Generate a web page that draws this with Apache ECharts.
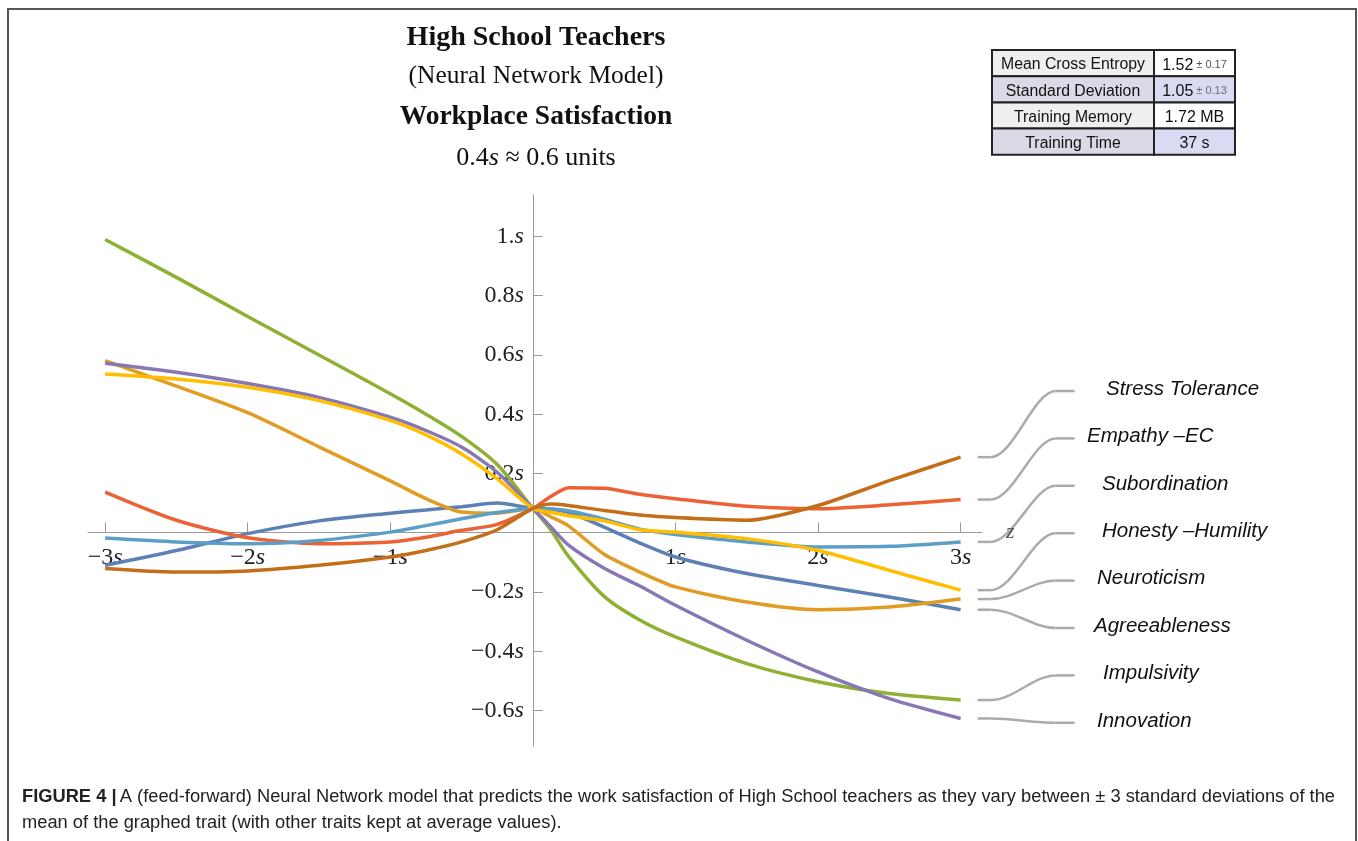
<!DOCTYPE html>
<html><head><meta charset="utf-8">
<script src="https://cdn.jsdelivr.net/npm/echarts@6/dist/echarts.min.js"></script>
<style>html,body{margin:0;padding:0;background:#fff}#c{width:1358px;height:841px}</style>
</head><body><div id="c"></div>
<script>
// ---- data ----
const xValues = [-3,-2.5,-2,-1.5,-1,-0.75,-0.5,-0.25,0,0.125,0.25,0.5,0.75,1,1.5,2,2.5,3];
const stressTolerance = [-0.121,-0.133,-0.129,-0.11,-0.082,-0.06,-0.031,0.01,0.082,0.097,0.092,0.075,0.06,0.051,0.042,0.092,0.176,0.255];
const empathyEC = [0.137,0.042,-0.017,-0.037,-0.031,-0.015,0.008,0.028,0.082,0.122,0.152,0.15,0.13,0.115,0.089,0.081,0.094,0.112];
const subordination = [-0.018,-0.031,-0.037,-0.026,0.002,0.024,0.047,0.068,0.082,0.081,0.074,0.046,0.012,-0.006,-0.031,-0.048,-0.046,-0.031];
const honestyHumility = [0.536,0.519,0.491,0.446,0.379,0.33,0.266,0.182,0.082,0.069,0.057,0.04,0.01,0.002,-0.02,-0.06,-0.127,-0.194];
const neuroticism = [0.581,0.495,0.405,0.29,0.175,0.115,0.07,0.066,0.082,0.054,0.023,-0.073,-0.133,-0.183,-0.234,-0.26,-0.251,-0.224];
const agreeableness = [-0.11,-0.06,-0.003,0.04,0.066,0.077,0.088,0.1,0.082,0.079,0.069,0.019,-0.035,-0.082,-0.138,-0.178,-0.217,-0.26];
const impulsivity = [0.99,0.862,0.73,0.6,0.469,0.4,0.325,0.23,0.082,0.01,-0.08,-0.215,-0.295,-0.352,-0.442,-0.503,-0.543,-0.565];
const innovation = [0.572,0.542,0.504,0.457,0.39,0.345,0.289,0.204,0.082,0.02,-0.042,-0.12,-0.18,-0.245,-0.363,-0.47,-0.56,-0.627];

const traitNames = ['Stress Tolerance','Empathy \u2013EC','Subordination','Honesty \u2013Humility','Neuroticism','Agreeableness','Impulsivity','Innovation'];
const traitValues = [stressTolerance, empathyEC, subordination, honestyHumility, neuroticism, agreeableness, impulsivity, innovation];
const traitColors = ['#C56E1A','#EB6235','#5D9EC7','#FFBF00','#E19C24','#5E81B5','#8FB032','#8778B3'];
const drawOrder = [5,4,6,1,7,2,3,0];

const xTickValues = [-3,-2,-1,1,2,3];
const xTickText = ['\u22123','\u22122','\u22121','1','2','3'];
const yTickValues = [-0.6,-0.4,-0.2,0.2,0.4,0.6,0.8,1];
const yTickText = ['\u22120.6','\u22120.4','\u22120.2','0.2','0.4','0.6','0.8','1.'];

const titleLines = ['High School Teachers','(Neural Network Model)','Workplace Satisfaction'];
const unitsNote = '0.4';
const tableLabels = ['Mean Cross Entropy','Standard Deviation','Training Memory','Training Time'];
const tableValues = ['1.52','1.05','1.72 MB','37 s'];
const tableErrors = ['\u00b1 0.17','\u00b1 0.13','',''];
const captionLine1 = 'A (feed-forward) Neural Network model that predicts the work satisfaction of High School teachers as they vary between \u00b1 3 standard deviations of the';
const captionLine2 = 'mean of the graphed trait (with other traits kept at average values).';

// ---- layout ----
const SERIF = '"Liberation Serif", "Times New Roman", serif';
const SANS = '"Liberation Sans", Arial, sans-serif';
const GL = 88, GT = 195, GW = 894, GH = 551;
const labelLeft = [1106,1087,1102,1102,1097,1094,1103,1097];
const labelTop = 389, labelStep = 47.4;

const chart = echarts.init(document.getElementById('c'), null, {renderer:'canvas'});

function fmtLabel(list, vals){
  return function(v){
    let i = vals.findIndex(t => Math.abs(t - v) < 1e-6);
    if (i < 0) return '';
    return '{n|' + list[i] + '}{s|s}';
  };
}
const labelRich = {
  n:{fontFamily:SERIF,fontSize:24,color:'#222'},
  s:{fontFamily:SERIF,fontSize:24,fontStyle:'italic',color:'#222'}
};
const axisCol = '#9a9a9a';

const series = drawOrder.map(k => ({
  name: traitNames[k], type:'line', smooth:0.25, symbol:'none',
  data: xValues.map((x,i)=>[x, traitValues[k][i]]),
  lineStyle:{color:traitColors[k], width:3.5},
  itemStyle:{color:traitColors[k]},
  emphasis:{disabled:true}, silent:true, z:3
}));

function makeOption(xOff, yOff){
  return {
    animation:false,
    grid:{left:GL, top:GT, width:GW, height:GH, containLabel:false},
    xAxis:{type:'value', min:-3.12, max:3.15, offset:xOff,
      axisLine:{onZero:false, lineStyle:{color:axisCol,width:1}},
      axisTick:{show:true, inside:true, length:10, customValues:xTickValues, lineStyle:{color:axisCol,width:1}},
      axisLabel:{customValues:xTickValues, margin:13, formatter:fmtLabel(xTickText,xTickValues), rich:labelRich},
      splitLine:{show:false},
      name:'z', nameLocation:'end', nameGap:24,
      nameTextStyle:{fontFamily:SERIF, fontStyle:'italic', fontSize:22, color:'#555', verticalAlign:'middle', padding:[6,0,0,0]}
    },
    yAxis:{type:'value', min:-0.72, max:1.14, offset:yOff,
      axisLine:{onZero:false, lineStyle:{color:axisCol,width:1}},
      axisTick:{show:true, inside:true, length:10, customValues:yTickValues, lineStyle:{color:axisCol,width:1}},
      axisLabel:{customValues:yTickValues, margin:9, formatter:fmtLabel(yTickText,yTickValues), rich:labelRich},
      splitLine:{show:false}
    },
    series: series
  };
}
chart.setOption(makeOption(0,0));
const origin = chart.convertToPixel({gridIndex:0}, [0,0]);
chart.setOption(makeOption(-(GT + GH - origin[1]), -(origin[0] - GL)));

// ---- annotations ----
const g = [];
g.push({type:'rect', shape:{x:8,y:9,width:1348,height:900}, style:{fill:'none', stroke:'#555', lineWidth:2}, z:0});
const titleY = [38, 76, 117];
const titleSize = [28, 25.5, 27.5];
titleLines.forEach((t,i)=>{
  g.push({type:'text', x:536, y:titleY[i], style:{text:t, fontFamily:SERIF, fontSize:titleSize[i], fontWeight: i===1?'normal':'bold', fill:'#111', align:'center', verticalAlign:'middle'}});
});
g.push({type:'text', x:536, y:158, style:{
  text:'{n|' + unitsNote + '}{s|s}{n| \u2248 0.6 units}', align:'center', verticalAlign:'middle',
  rich:{n:{fontFamily:SERIF,fontSize:26,fill:'#111'}, s:{fontFamily:SERIF,fontSize:26,fontStyle:'italic',fill:'#111'}}
}});
// table
const tX0 = 992, tX1 = 1154, tX2 = 1235, tY0 = 50, rowH = 26.2;
const leftFill = ['#EFEFEF','#DADAE6','#EFEFEF','#DADAE6'];
const rightFill = ['#FFFFFF','#DADAF2','#FFFFFF','#DADAF2'];
tableLabels.forEach((lab,i)=>{
  const y = tY0 + i*rowH;
  g.push({type:'rect', shape:{x:tX0,y:y,width:tX1-tX0,height:rowH}, style:{fill:leftFill[i], stroke:'#222', lineWidth:2}});
  g.push({type:'rect', shape:{x:tX1,y:y,width:tX2-tX1,height:rowH}, style:{fill:rightFill[i], stroke:'#222', lineWidth:2}});
  g.push({type:'text', x:(tX0+tX1)/2, y:y+rowH/2+2, style:{text:lab, fontFamily:SANS, fontSize:15.8, fill:'#111', align:'center', verticalAlign:'middle'}});
  const errTxt = tableErrors[i] ? '{e| ' + tableErrors[i] + '}' : '';
  g.push({type:'text', x:(tX1+tX2)/2, y:y+rowH/2+2, style:{text:'{v|' + tableValues[i] + '}' + errTxt, align:'center', verticalAlign:'middle',
    rich:{v:{fontFamily:SANS,fontSize:16,fill:'#111'}, e:{fontFamily:SANS,fontSize:11,fill: i===1?'#6a6a8a':'#555'}}}});
});
// trait labels with connectors
const connStyle = {fill:'none', stroke:'#ababab', lineWidth:2.5};
traitNames.forEach((name,i)=>{
  const vals = traitValues[i];
  const p = chart.convertToPixel({gridIndex:0}, [xValues[xValues.length-1], vals[vals.length-1]]);
  const y0 = p[1];
  const y1 = labelTop + i*labelStep + 2;
  const xa = p[0] + 17;
  g.push({type:'line', shape:{x1:xa, y1:y0, x2:xa+13, y2:y0}, style:connStyle});
  g.push({type:'bezierCurve', shape:{x1:xa+13, y1:y0, cpx1:xa+36, cpy1:y0, cpx2:xa+56, cpy2:y1, x2:xa+78, y2:y1}, style:connStyle});
  g.push({type:'line', shape:{x1:xa+78, y1:y1, x2:xa+97, y2:y1}, style:connStyle});
  g.push({type:'text', x:labelLeft[i], y:labelTop + i*labelStep, style:{text:name, fontFamily:SANS, fontStyle:'italic', fontSize:20.5, fill:'#111', align:'left', verticalAlign:'middle'}});
});
// caption
g.push({type:'text', x:22, y:797, style:{text:'{b|FIGURE 4 |} {t|' + captionLine1 + '}', verticalAlign:'middle',
  rich:{b:{fontFamily:SANS,fontSize:18.3,fontWeight:'bold',fill:'#222'}, t:{fontFamily:SANS,fontSize:18.3,fill:'#222'}}}});
g.push({type:'text', x:22, y:823, style:{text:captionLine2, fontFamily:SANS, fontSize:18.3, fill:'#222', verticalAlign:'middle'}});

chart.setOption({graphic: g});
</script>
</body></html>
